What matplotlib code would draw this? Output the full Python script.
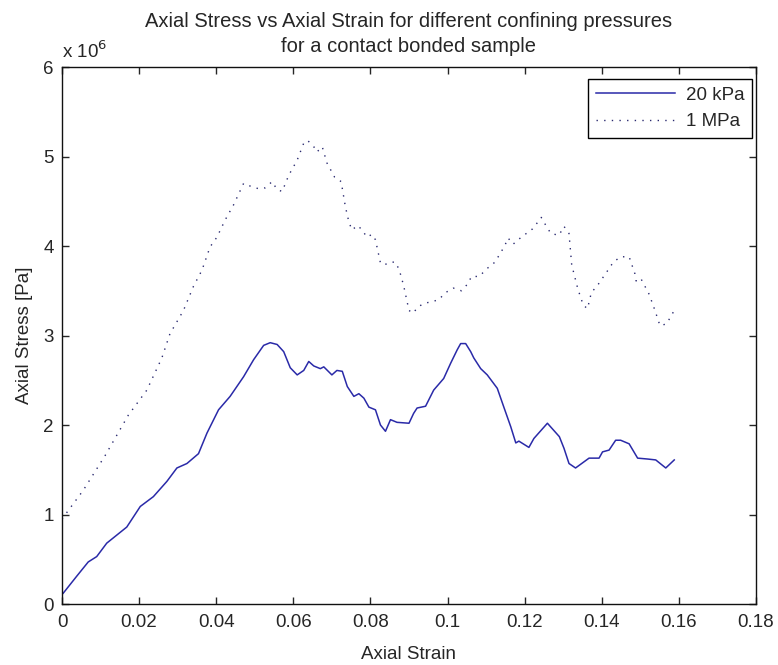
import numpy as np
import matplotlib
matplotlib.use("Agg")
import matplotlib.pyplot as plt

plt.rcParams['font.family'] = ['Liberation Sans', 'DejaVu Sans']

# axial strain / axial stress (x 1e6 Pa), 20 kPa confinement
strain_20kpa = [0.0003, 0.0038, 0.0068, 0.009, 0.0116, 0.0142, 0.0168, 0.0203, 0.0237,
                0.0272, 0.0298, 0.0324, 0.0354, 0.0376, 0.0406, 0.0436, 0.0471, 0.0497,
                0.0523, 0.054, 0.0558, 0.0575, 0.0592, 0.061, 0.0627, 0.064, 0.0653,
                0.067, 0.0679, 0.070, 0.0713, 0.0727, 0.0740, 0.0757, 0.077, 0.0783,
                0.0796, 0.0813, 0.0826, 0.0839, 0.0852, 0.0869, 0.090, 0.0912, 0.0921,
                0.0943, 0.0964, 0.099, 0.1008, 0.1025, 0.1034, 0.1047, 0.106, 0.1068,
                0.1086, 0.1103, 0.1129, 0.1146, 0.1164, 0.1177, 0.1185, 0.1211, 0.1224,
                0.1259, 0.129, 0.1302, 0.1315, 0.1332, 0.1367, 0.1393, 0.1402, 0.1419,
                0.1436, 0.1449, 0.1471, 0.1493, 0.1519, 0.154, 0.1566, 0.1588]
stress_20kpa = [0.12, 0.31, 0.47, 0.53, 0.68, 0.77, 0.86, 1.09, 1.20,
                1.37, 1.52, 1.57, 1.68, 1.91, 2.17, 2.32, 2.54, 2.73,
                2.89, 2.92, 2.90, 2.82, 2.64, 2.56, 2.61, 2.71, 2.66,
                2.63, 2.65, 2.56, 2.61, 2.60, 2.43, 2.32, 2.35, 2.30,
                2.20, 2.17, 2.00, 1.93, 2.06, 2.03, 2.02, 2.13, 2.19,
                2.21, 2.39, 2.52, 2.69, 2.84, 2.91, 2.91, 2.82, 2.75,
                2.63, 2.56, 2.41, 2.20, 1.98, 1.80, 1.82, 1.75, 1.85,
                2.02, 1.87, 1.74, 1.57, 1.52, 1.63, 1.63, 1.70, 1.72,
                1.83, 1.83, 1.79, 1.63, 1.62, 1.61, 1.52, 1.61]

# 1 MPa confinement
strain_1mpa = [0.0, 0.0055, 0.0112, 0.0172, 0.022, 0.0259, 0.028, 0.0315, 0.0341,
               0.0363, 0.0384, 0.0402, 0.0423, 0.0445, 0.0471, 0.0488, 0.051, 0.0527,
               0.0545, 0.0558, 0.0571, 0.0588, 0.061, 0.0627, 0.0637, 0.0653, 0.0661,
               0.0675, 0.0687, 0.0707, 0.0724, 0.0735, 0.0744, 0.0752, 0.0767, 0.0778,
               0.0791, 0.0804, 0.0813, 0.0826, 0.0836, 0.0852, 0.0865, 0.0875, 0.0886,
               0.09, 0.0911, 0.0923, 0.094, 0.0961, 0.0977, 0.0995, 0.1015, 0.1036,
               0.1053, 0.1062, 0.1082, 0.1103, 0.1123, 0.1148, 0.1157, 0.117, 0.1183,
               0.1198, 0.122, 0.1231, 0.1243, 0.1255, 0.1268, 0.1289, 0.1302, 0.1315,
               0.1322, 0.1338, 0.1352, 0.1363, 0.1373, 0.1389, 0.1416, 0.143, 0.1449,
               0.1471, 0.1486, 0.1489, 0.1501, 0.1523, 0.1538, 0.1551, 0.1568, 0.1588]
stress_1mpa = [0.95, 1.27, 1.66, 2.11, 2.39, 2.75, 3.02, 3.28, 3.55,
               3.73, 3.99, 4.10, 4.29, 4.46, 4.70, 4.67, 4.64, 4.65,
               4.72, 4.63, 4.61, 4.79, 4.96, 5.15, 5.18, 5.11, 5.05,
               5.11, 4.93, 4.77, 4.72, 4.44, 4.27, 4.18, 4.23, 4.18,
               4.10, 4.13, 4.07, 3.81, 3.79, 3.82, 3.82, 3.73, 3.56,
               3.28, 3.25, 3.32, 3.36, 3.38, 3.40, 3.48, 3.53, 3.50,
               3.58, 3.66, 3.66, 3.75, 3.82, 4.00, 4.09, 4.02, 4.07,
               4.12, 4.19, 4.25, 4.32, 4.23, 4.14, 4.12, 4.22, 4.14,
               3.79, 3.52, 3.34, 3.30, 3.48, 3.56, 3.73, 3.82, 3.88,
               3.88, 3.69, 3.61, 3.64, 3.46, 3.28, 3.11, 3.13, 3.28]

xticks = [0, 0.02, 0.04, 0.06, 0.08, 0.1, 0.12, 0.14, 0.16, 0.18]
xticklabels = ['0', '0.02', '0.04', '0.06', '0.08', '0.1', '0.12', '0.14', '0.16', '0.18']
yticks = [0, 1, 2, 3, 4, 5, 6]

txt = '#262626'
fs = 13.5

fig = plt.figure(figsize=(7.78, 6.65), dpi=100)
ax = fig.add_axes([0.0797, 0.0917, 0.8920, 0.8075])

ax.plot(strain_20kpa, np.array(stress_20kpa) * 1e6, color='#2a2aa8', lw=1.1, label='20 kPa')
ax.plot(strain_1mpa, np.array(stress_1mpa) * 1e6, color='#2a2a70', lw=1.0,
        linestyle=(0, (1, 4.5)), label='1 MPa')

ax.set_xlim(0, 0.18)
ax.set_ylim(0, 6e6)
ax.set_xticks(xticks)
ax.set_xticklabels(xticklabels)
ax.set_yticks([v * 1e6 for v in yticks])
ax.set_yticklabels([str(v) for v in yticks])
ax.tick_params(direction='in', top=True, right=True, length=5, width=1,
               labelsize=fs, colors=txt)
ax.tick_params(axis='x', pad=7)
ax.tick_params(axis='y', pad=6)
for s in ax.spines.values():
    s.set_linewidth(1.0)
    s.set_color('#111111')

ax.text(0.0, 1.010, r'x 10$^6$', transform=ax.transAxes, fontsize=fs,
        ha='left', va='bottom', color=txt)

ax.set_title('Axial Stress vs Axial Strain for different confining pressures\n'
             'for a contact bonded sample', fontsize=14.5, pad=11, linespacing=1.4,
             color=txt)
ax.set_xlabel('Axial Strain', fontsize=fs, labelpad=11, color=txt)
ax.set_ylabel('Axial Stress [Pa]', fontsize=fs, labelpad=7, color=txt)

leg = ax.legend(loc='upper right', bbox_to_anchor=(0.9942, 0.9777), borderaxespad=0,
                fontsize=fs, fancybox=False, framealpha=1, edgecolor='black',
                handlelength=4.2, handletextpad=0.6, borderpad=0.4, labelspacing=0.5)
leg.get_frame().set_linewidth(1.0)
for t in leg.get_texts():
    t.set_color(txt)

fig.savefig('out.png', dpi=100)
